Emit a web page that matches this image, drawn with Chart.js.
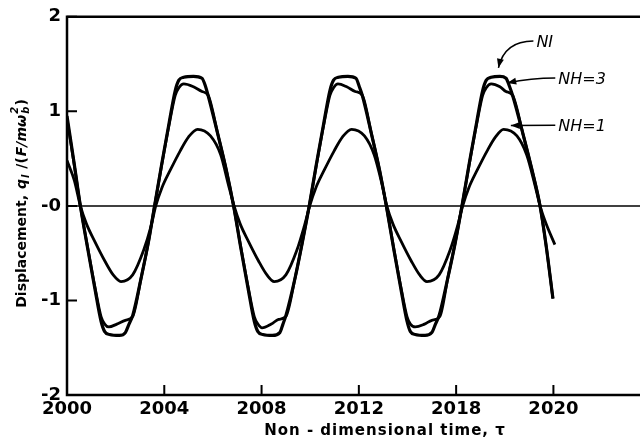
<!DOCTYPE html>
<html lang="en">
<head>
  <meta charset="UTF-8" />
  <title>Displacement vs non-dimensional time</title>
  <script src="https://cdn.jsdelivr.net/npm/chart.js"></script>
  <style>
    * {
      margin: 0;
      padding: 0;
      box-sizing: border-box;
    }
    body {
      background: #fff;
    }
    .chart-box {
      position: relative;
      width: 640px;
      height: 447px;
    }
  </style>
</head>
<body>

  <div class="chart-box">
    <canvas id="responseChart"></canvas>
  </div>

  <script>
    // axis ticks (the fifth x label is printed as "2018" on the original plot)
    const xTickValues = [2000, 2004, 2008, 2012, 2016, 2020];
    const xTickLabels = ["2000", "2004", "2008", "2012", "2018", "2020"];
    const yTickValues = [-2, -1, 0, 1, 2];
    const yTickLabels = ["-2", "-1", "-0", "1", "2"];

    // NI
    const timeNI = [
      2000, 2000.3,
      2000.55, 2000.85, 2001.15, 2001.4, 2001.55, 2001.75, 2002.15, 2002.4, 2002.55, 2002.7, 2003.05, 2003.35,
      2003.6, 2003.9, 2004.2, 2004.45, 2004.6, 2004.8, 2005.2, 2005.55, 2005.7, 2005.8, 2006.2, 2006.55,
      2006.85, 2007.15, 2007.45, 2007.7, 2007.85, 2008.05, 2008.45, 2008.75, 2008.88, 2009.0, 2009.38, 2009.68,
      2009.96, 2010.26, 2010.56, 2010.81, 2010.96, 2011.16, 2011.55, 2011.88, 2012.02, 2012.14, 2012.52, 2012.85,
      2013.13, 2013.43, 2013.73, 2013.98, 2014.12, 2014.32, 2014.72, 2015.0, 2015.15, 2015.3, 2015.66, 2015.97,
      2016.24, 2016.54, 2016.84, 2017.09, 2017.24, 2017.44, 2017.8, 2018.05, 2018.2, 2018.32, 2018.75, 2019.12,
      2019.45, 2019.7, 2019.98
    ];
    const valuesNI = [
      0.95, 0.44,
      0, -0.45, -0.88, -1.22, -1.33, -1.36, -1.37, -1.34, -1.25, -1.16, -0.76, -0.38,
      0, 0.45, 0.88, 1.22, 1.33, 1.36, 1.37, 1.35, 1.26, 1.17, 0.76, 0.38,
      0, -0.45, -0.88, -1.22, -1.33, -1.36, -1.37, -1.34, -1.25, -1.16, -0.76, -0.38,
      0, 0.45, 0.88, 1.22, 1.33, 1.36, 1.37, 1.35, 1.26, 1.17, 0.76, 0.38,
      0, -0.45, -0.88, -1.22, -1.33, -1.36, -1.37, -1.34, -1.25, -1.16, -0.76, -0.38,
      0, 0.45, 0.88, 1.22, 1.33, 1.36, 1.37, 1.35, 1.26, 1.17, 0.76, 0.38,
      0, -0.42, -0.98
    ];

    // NH = 3
    const timeNH3 = [
      2000, 2000.3,
      2000.55, 2000.85, 2001.15, 2001.4, 2001.55, 2001.72, 2002.05, 2002.4, 2002.7, 2003.05, 2003.35,
      2003.6, 2003.9, 2004.2, 2004.45, 2004.6, 2004.8, 2005.2, 2005.55, 2005.8, 2006.2, 2006.55,
      2006.85, 2007.15, 2007.45, 2007.7, 2007.85, 2008.02, 2008.4, 2008.7, 2009.0, 2009.38, 2009.68,
      2009.96, 2010.26, 2010.56, 2010.81, 2010.96, 2011.14, 2011.5, 2011.85, 2012.14, 2012.52, 2012.85,
      2013.13, 2013.43, 2013.73, 2013.98, 2014.12, 2014.32, 2014.7, 2015.0, 2015.33, 2015.66, 2015.97,
      2016.24, 2016.54, 2016.84, 2017.09, 2017.24, 2017.44, 2017.8, 2018.05, 2018.32, 2018.75, 2019.12,
      2019.45, 2019.7, 2019.98
    ];
    const valuesNH3 = [
      0.92, 0.43,
      0, -0.44, -0.86, -1.17, -1.25, -1.28, -1.25, -1.21, -1.17, -0.76, -0.38,
      0, 0.44, 0.86, 1.17, 1.25, 1.29, 1.26, 1.21, 1.17, 0.76, 0.38,
      0, -0.44, -0.86, -1.17, -1.25, -1.29, -1.25, -1.2, -1.17, -0.76, -0.38,
      0, 0.44, 0.86, 1.17, 1.25, 1.29, 1.26, 1.21, 1.17, 0.76, 0.38,
      0, -0.44, -0.86, -1.17, -1.25, -1.28, -1.25, -1.21, -1.17, -0.76, -0.38,
      0, 0.44, 0.86, 1.17, 1.25, 1.29, 1.26, 1.21, 1.17, 0.76, 0.38,
      0, -0.42, -0.98
    ];

    // NH = 1
    const timeNH1 = [
      2000, 2000.3,
      2000.55, 2000.8, 2001.15, 2001.55, 2001.9, 2002.22, 2002.7, 2003.15, 2003.45,
      2003.65, 2003.9, 2004.25, 2004.65, 2005.0, 2005.37, 2005.9, 2006.32, 2006.64,
      2006.87, 2007.12, 2007.47, 2007.87, 2008.22, 2008.52, 2009.0, 2009.45, 2009.75,
      2009.98, 2010.23, 2010.58, 2010.98, 2011.33, 2011.7, 2012.23, 2012.63, 2012.96,
      2013.15, 2013.4, 2013.75, 2014.15, 2014.5, 2014.8, 2015.3, 2015.75, 2016.05,
      2016.27, 2016.52, 2016.87, 2017.27, 2017.62, 2017.95, 2018.5, 2018.9, 2019.24,
      2019.45, 2019.7, 2020.06
    ];
    const valuesNH1 = [
      0.48, 0.27,
      0, -0.19, -0.38, -0.58, -0.73, -0.8, -0.73, -0.47, -0.22,
      0, 0.19, 0.38, 0.58, 0.73, 0.81, 0.74, 0.54, 0.22,
      0, -0.19, -0.38, -0.58, -0.73, -0.8, -0.73, -0.47, -0.22,
      0, 0.19, 0.38, 0.58, 0.73, 0.81, 0.74, 0.54, 0.22,
      0, -0.19, -0.38, -0.58, -0.73, -0.8, -0.73, -0.47, -0.22,
      0, 0.19, 0.38, 0.58, 0.73, 0.81, 0.74, 0.54, 0.22,
      0, -0.19, -0.41
    ];

    // curve labels with leader arrows (text anchor and arrow tip in data units)
    const curveNotes = [
      { text: "NI", tx: 2019.3, ty: 1.68, ax: 2017.74, ay: 1.46, hook: true },
      { text: "NH=3", tx: 2020.2, ty: 1.29, ax: 2018.1, ay: 1.3, hook: false },
      { text: "NH=1", tx: 2020.2, ty: 0.79, ax: 2018.25, ay: 0.85, hook: false }
    ];

    const toPoints = (ts, vs) => ts.map((t, i) => ({ x: t, y: vs[i] }));

    const tickFont = { family: "'DejaVu Sans'", weight: "bold", size: 18 };

    function drawArrow(ctx, sx, sy, cx, cy, ex, ey) {
      ctx.beginPath();
      ctx.moveTo(sx, sy);
      ctx.quadraticCurveTo(cx, cy, ex, ey);
      ctx.stroke();
      const ang = Math.atan2(ey - cy, ex - cx);
      const len = 9, half = 3.5;
      ctx.beginPath();
      ctx.moveTo(ex, ey);
      ctx.lineTo(ex - len * Math.cos(ang) + half * Math.sin(ang), ey - len * Math.sin(ang) - half * Math.cos(ang));
      ctx.lineTo(ex - len * Math.cos(ang) - half * Math.sin(ang), ey - len * Math.sin(ang) + half * Math.cos(ang));
      ctx.closePath();
      ctx.fill();
    }

    // frame, inward ticks, zero line, axis titles and curve labels
    const decorPlugin = {
      id: "decor",
      afterDraw(chart) {
        const { ctx, chartArea: a, scales: { x, y } } = chart;
        ctx.save();
        ctx.strokeStyle = "#000";
        ctx.fillStyle = "#000";

        ctx.lineWidth = 2.5;
        ctx.beginPath();
        ctx.moveTo(a.right, a.top);
        ctx.lineTo(a.left, a.top);
        ctx.lineTo(a.left, a.bottom);
        ctx.lineTo(a.right, a.bottom);
        ctx.stroke();

        ctx.lineWidth = 1.5;
        const y0 = y.getPixelForValue(0);
        ctx.beginPath();
        ctx.moveTo(a.left, y0);
        ctx.lineTo(a.right, y0);
        ctx.stroke();

        ctx.lineWidth = 2;
        ctx.beginPath();
        xTickValues.forEach(v => {
          const px = x.getPixelForValue(v);
          ctx.moveTo(px, a.bottom);
          ctx.lineTo(px, a.bottom - 10);
        });
        yTickValues.forEach(v => {
          const py = y.getPixelForValue(v);
          ctx.moveTo(a.left, py);
          ctx.lineTo(a.left + 10, py);
        });
        ctx.stroke();

        // x title
        ctx.font = "bold 15px 'DejaVu Sans'";
        ctx.letterSpacing = "1px";
        ctx.textAlign = "center";
        ctx.textBaseline = "middle";
        ctx.fillText("Non - dimensional time, \u03c4", 385, 431);
        ctx.letterSpacing = "0px";

        // y title, rotated, with sub/superscripts
        ctx.save();
        ctx.translate(26, 203);
        ctx.rotate(-Math.PI / 2);
        ctx.textAlign = "left";
        ctx.textBaseline = "alphabetic";
        const big = "bold 14px 'DejaVu Sans'";
        const ital = "italic bold 14px 'DejaVu Sans'";
        const small = "italic bold 10px 'DejaVu Sans'";
        const parts = [
          { t: "Displacement, ", f: big, dy: 0 },
          { t: "q", f: ital, dy: 0 },
          { t: "l", f: small, dy: 3 },
          { t: " /(", f: big, dy: 0 },
          { t: "F/m\u03c9", f: ital, dy: 0 },
          { t: "b", f: small, dy: 3, stack: "2" },
          { t: ")", f: big, dy: 0 }
        ];
        let total = 0;
        parts.forEach(p => { ctx.font = p.f; p.w = ctx.measureText(p.t).width + 1; total += p.w; });
        let cx = -total / 2;
        parts.forEach(p => {
          ctx.font = p.f;
          ctx.fillText(p.t, cx, p.dy);
          if (p.stack) ctx.fillText(p.stack, cx, -8);
          cx += p.w;
        });
        ctx.restore();

        // curve labels
        ctx.font = "italic 16px 'DejaVu Sans'";
        ctx.textAlign = "left";
        ctx.textBaseline = "alphabetic";
        ctx.lineWidth = 1.5;
        curveNotes.forEach(n => {
          const tx = x.getPixelForValue(n.tx);
          const ty = y.getPixelForValue(n.ty);
          ctx.fillText(n.text, tx, ty);
          const sx = tx - 3, sy = ty - 6;
          const ex = x.getPixelForValue(n.ax);
          const ey = y.getPixelForValue(n.ay);
          if (n.hook) {
            drawArrow(ctx, sx, sy, ex + 6, sy, ex, ey);
          } else {
            drawArrow(ctx, sx, sy, (sx + ex) / 2, sy, ex, ey);
          }
        });

        ctx.restore();
      }
    };

    const lineStyle = {
      borderColor: "#000",
      backgroundColor: "#000",
      pointRadius: 0,
      fill: false,
      cubicInterpolationMode: "monotone"
    };

    const ctxResponse = document.getElementById("responseChart").getContext("2d");
    new Chart(ctxResponse, {
      type: "line",
      data: {
        datasets: [
          { label: "NH=1", data: toPoints(timeNH1, valuesNH1), borderWidth: 2.8, ...lineStyle },
          { label: "NH=3", data: toPoints(timeNH3, valuesNH3), borderWidth: 2.8, ...lineStyle },
          { label: "NI", data: toPoints(timeNI, valuesNI), borderWidth: 3.2, ...lineStyle }
        ]
      },
      options: {
        responsive: true,
        maintainAspectRatio: false,
        animation: false,
        devicePixelRatio: 1,
        layout: { padding: { top: 12, right: 0, bottom: 0, left: 0 } },
        plugins: {
          legend: { display: false },
          tooltip: { enabled: false }
        },
        scales: {
          x: {
            type: "linear",
            min: 2000,
            max: 2023.56,
            afterBuildTicks: s => { s.ticks = xTickValues.map(v => ({ value: v })); },
            afterFit: s => { s.height = 52; },
            ticks: {
              callback: (v, i) => xTickLabels[i],
              font: tickFont,
              color: "#000",
              padding: 4,
              maxRotation: 0,
              autoSkip: false
            },
            grid: { display: false, drawTicks: false },
            border: { display: false }
          },
          y: {
            min: -2,
            max: 2,
            afterBuildTicks: s => { s.ticks = yTickValues.map(v => ({ value: v })); },
            afterFit: s => { s.width = 67; },
            ticks: {
              callback: (v, i) => yTickLabels[i],
              font: tickFont,
              color: "#000",
              padding: 6
            },
            grid: { display: false, drawTicks: false },
            border: { display: false }
          }
        }
      },
      plugins: [decorPlugin]
    });
  </script>
</body>
</html>
